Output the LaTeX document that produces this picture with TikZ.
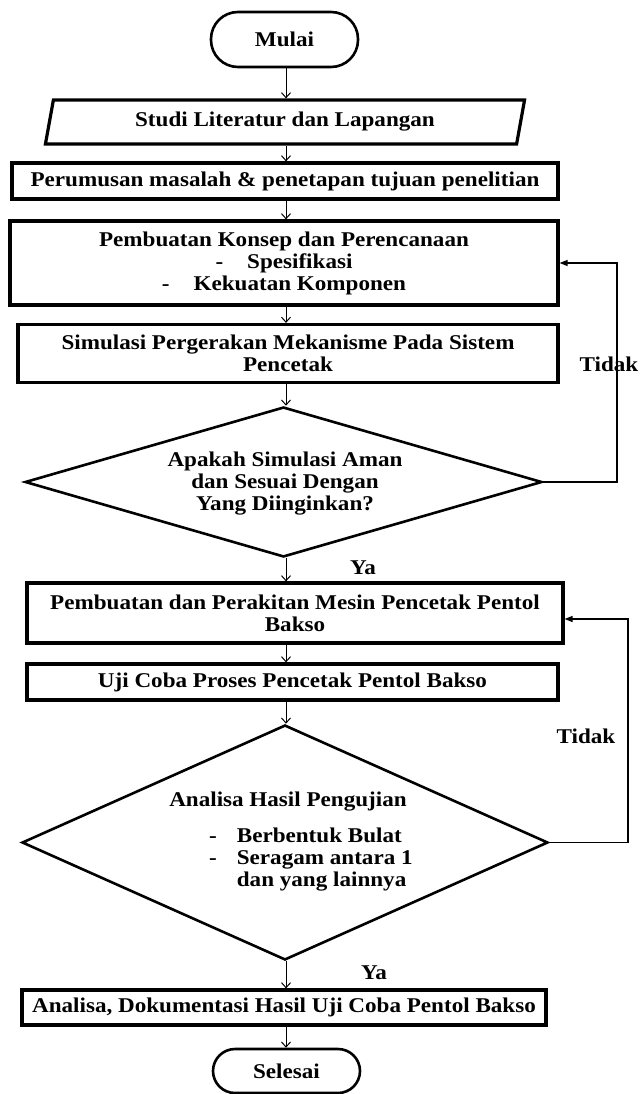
\documentclass[tikz,border=0pt]{standalone}
\usepackage{fontspec}
\setmainfont{Liberation Serif}[FakeStretch=1.1]
\usetikzlibrary{shapes.geometric,arrows.meta,calc}
\begin{document}
\begin{tikzpicture}[x=1pt,y=-1pt,
  every node/.style={font=\bfseries\fontsize{21}{22}\selectfont, text=black},
  proc/.style={draw, line width=3.2pt, rectangle, inner sep=0pt, align=center},
  term/.style={draw, line width=2.6pt, rectangle, inner sep=0pt},
  dec/.style={draw, line width=2.6pt, diamond, inner sep=0pt, aspect=2},
  io/.style={draw, line width=3.2pt, trapezium, trapezium left angle=75, trapezium right angle=105, trapezium stretches=true, inner sep=0pt},
  arr/.style={line width=1pt, -{Straight Barb[length=5pt,width=9pt]}},
  back/.style={line width=1.3pt, -{Triangle[length=8pt,width=6pt]}},
  lbl/.style={inner sep=0pt}
]
\useasboundingbox[fill=white] (0,0) rectangle (641,1094);

% nodes
\node[term, rounded corners=27pt, minimum width=147pt, minimum height=55pt] (mulai) at (284.5,39.5) {Mulai};
\node[io, minimum width=480pt, minimum height=44pt] (studi) at (285,122) {Studi Literatur dan Lapangan};
\node[proc, minimum width=546pt, minimum height=36pt] (rumus) at (285,181) {Perumusan masalah \& penetapan tujuan penelitian};
\node[proc, minimum width=548pt, minimum height=84pt] (konsep) at (284,263) {Pembuatan Konsep dan Perencanaan\\ -\hspace{24pt}Spesifikasi\\ -\hspace{24pt}Kekuatan Komponen};
\node[proc, minimum width=540pt, minimum height=58pt] (simul) at (288,353.5) {Simulasi Pergerakan Mekanisme Pada Sistem\\Pencetak};
\node[dec, minimum width=517pt, minimum height=150pt] (d1) at (283.5,482) {};
\node[lbl, align=center] (d1t) at (285,484) {Apakah Simulasi Aman\\dan Sesuai Dengan\\Yang Diinginkan?};
\node[proc, minimum width=536pt, minimum height=60pt] (rakit) at (295,613) {Pembuatan dan Perakitan Mesin Pencetak Pentol\\Bakso};
\node[proc, minimum width=531pt, minimum height=36pt] (uji) at (292.5,682) {Uji Coba Proses Pencetak Pentol Bakso};
\node[dec, minimum width=526pt, minimum height=235pt] (d2) at (285,842.5) {};
\node[lbl] (d2t) at (288,802) {Analisa Hasil Pengujian};
\node[lbl, anchor=west] (d2l) at (209,860) {\begin{tabular}{@{}l@{\hspace{20pt}}l@{}}-&Berbentuk Bulat\\-&Seragam antara 1\\&dan yang lainnya\end{tabular}};
\node[proc, minimum width=524pt, minimum height=35pt] (analisa) at (284,1007.5) {Analisa, Dokumentasi Hasil Uji Coba Pentol Bakso};
\node[term, rounded corners=22pt, minimum width=147pt, minimum height=44pt] (selesai) at (286.5,1071) {Selesai};

% labels
\node[lbl] (t1) at (609,364) {Tidak};
\node[lbl] (t2) at (586,736) {Tidak};
\node[lbl] (y1) at (363,568) {Ya};
\node[lbl] (y2) at (374,973) {Ya};

% column for main flow
\coordinate (col) at (286,0);
\draw[arr] (col |- mulai.south) -- (col |- studi.north);
\draw[arr] (col |- studi.south) -- (col |- rumus.north);
\draw[arr] (col |- rumus.south) -- (col |- konsep.north);
\draw[arr] (col |- konsep.south) -- (col |- simul.north);
\draw[arr] (col |- simul.south) -- (col |- d1.north);
\draw[arr] (col |- d1.south) -- (col |- rakit.north);
\draw[arr] (col |- rakit.south) -- (col |- uji.north);
\draw[arr] (col |- uji.south) -- (col |- d2.north);
\draw[arr] (col |- d2.south) -- (col |- analisa.north);
\draw[arr] (col |- analisa.south) -- (col |- selesai.north);

% loops
\coordinate (r1) at (617,482);
\draw[back] (d1.east) -- (r1) |- (konsep.east);
\coordinate (r2) at (628,842.5);
\coordinate (r2t) at (628,619);
\draw[back] (d2.east) -- (r2) -- (r2t) -- (r2t -| rakit.east);
\end{tikzpicture}
\end{document}
